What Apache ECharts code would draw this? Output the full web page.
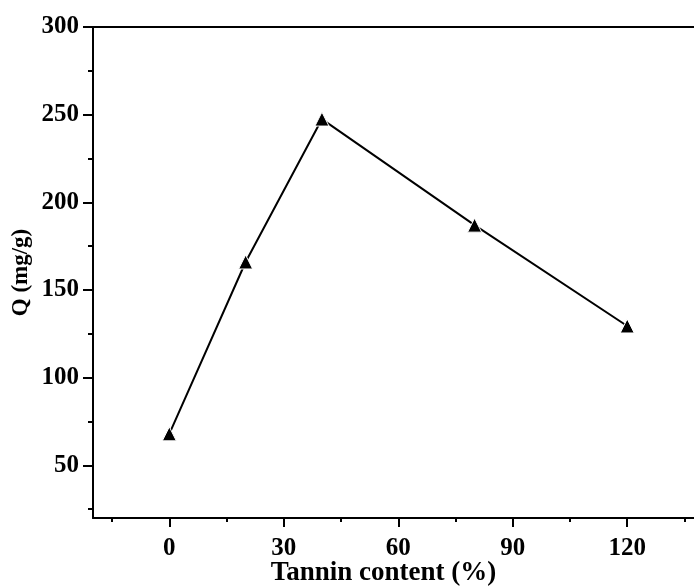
<!DOCTYPE html>
<html>
<head>
<meta charset="utf-8">
<script src="https://cdn.jsdelivr.net/npm/echarts@6/dist/echarts.min.js"></script>
<style>
    html, body { margin: 0; padding: 0; background: #fff; }
    #chart { width: 694px; height: 586px; }
</style>
</head>
<body>
<div id="chart"></div>
<script>
var tannin = [0, 20, 40, 80, 120];
var qValues = [68, 166, 247.5, 187, 129.5];
var xMajorTicks = [0, 30, 60, 90, 120];
var xMinorTicks = [-15, 15, 45, 75, 105, 135];
var yMajorTicks = [50, 100, 150, 200, 250, 300];
var yMinorTicks = [25, 75, 125, 175, 225, 275];

var chartObj = (function () {
    var font = '"Liberation Serif", "Times New Roman", serif';
    var o = {
        init: function () {
            this.myChart = echarts.init(document.getElementById('chart'));
            this.draw();
        },
        draw: function () {
            var seriesData = tannin.map(function (x, i) {
                return [x, qValues[i]];
            });
            var lineStyle = { color: '#000', width: 2 };
            var option = {
                animation: false,
                grid: { left: 93, right: 0, top: 27, bottom: 68, outerBoundsMode: 'none', containLabel: false },
                xAxis: [{
                    type: 'value', min: -20, max: 137.5, position: 'bottom',
                    name: 'Tannin content (%)', nameLocation: 'middle', nameGap: 42, nameMoveOverlap: false,
                    nameTextStyle: { fontFamily: font, fontWeight: 'bold', fontSize: 27, color: '#000', padding: [0, 20, 0, 0] },
                    axisLine: { onZero: false, lineStyle: lineStyle },
                    axisTick: { customValues: xMajorTicks, length: 9, lineStyle: lineStyle },
                    axisLabel: { customValues: xMajorTicks, margin: 18, fontFamily: font, fontWeight: 'bold', fontSize: 25, color: '#000' },
                    splitLine: { show: false }
                }, {
                    type: 'value', min: -20, max: 137.5, position: 'bottom',
                    axisLine: { show: false, onZero: false },
                    axisTick: { customValues: xMinorTicks, length: 4, lineStyle: lineStyle },
                    axisLabel: { show: false },
                    splitLine: { show: false }
                }, {
                    type: 'value', min: -20, max: 137.5, position: 'top',
                    axisLine: { onZero: false, lineStyle: lineStyle },
                    axisTick: { show: false },
                    axisLabel: { show: false },
                    splitLine: { show: false }
                }],
                yAxis: [{
                    type: 'value', min: 20, max: 300, position: 'left',
                    name: 'Q (mg/g)', nameLocation: 'middle', nameGap: 60, nameMoveOverlap: false,
                    nameTextStyle: { fontFamily: font, fontWeight: 'bold', fontSize: 23, color: '#000' },
                    axisLine: { onZero: false, lineStyle: lineStyle },
                    axisTick: { customValues: yMajorTicks, length: 10, lineStyle: lineStyle },
                    axisLabel: { customValues: yMajorTicks, margin: 14, fontFamily: font, fontWeight: 'bold', fontSize: 25, color: '#000' },
                    splitLine: { show: false }
                }, {
                    type: 'value', min: 20, max: 300, position: 'left',
                    axisLine: { show: false, onZero: false },
                    axisTick: { customValues: yMinorTicks, length: 5, lineStyle: lineStyle },
                    axisLabel: { show: false },
                    splitLine: { show: false }
                }],
                series: [{
                    name: 'Q',
                    type: 'line',
                    xAxisIndex: 0,
                    yAxisIndex: 0,
                    data: seriesData,
                    symbol: 'triangle',
                    symbolSize: 14,
                    lineStyle: { color: '#000', width: 2 },
                    itemStyle: { color: '#000', borderColor: '#fff', borderWidth: 1 }
                }]
            };
            this.myChart.setOption(option);
        }
    };
    o.init();
    return o;
}());
</script>
</body>
</html>
